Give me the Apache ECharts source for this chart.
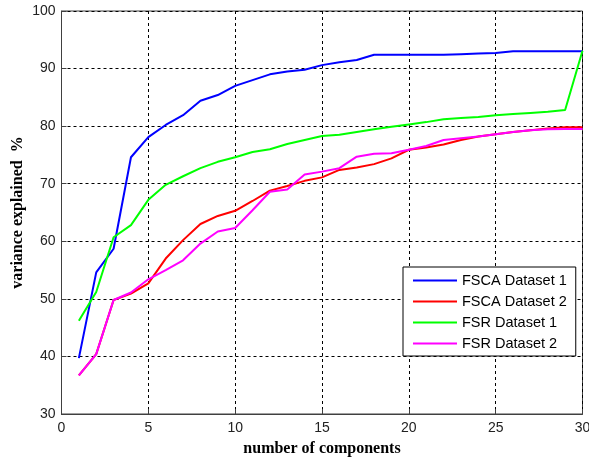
<!DOCTYPE html>
<html>
<head>
<meta charset="utf-8">
<script src="https://cdn.jsdelivr.net/npm/echarts@6/dist/echarts.min.js"></script>
<style>html,body{margin:0;padding:0;background:#fff;}#c{width:589px;height:459px;}</style>
</head>
<body>
<div id="c"></div>
<script>
const components = [1,2,3,4,5,6,7,8,9,10,11,12,13,14,15,16,17,18,19,20,21,22,23,24,25,26,27,28,29,30];
const fscaDataset1 = [39.7,54.6,58.7,74.6,78.1,80.2,81.9,84.4,85.4,87.0,88.0,89.0,89.5,89.8,90.6,91.1,91.5,92.4,92.4,92.4,92.4,92.4,92.5,92.6,92.7,93.0,93.0,93.0,93.0,93.0];
const fscaDataset2 = [36.7,40.4,49.8,50.9,52.7,57.0,60.2,63.0,64.4,65.3,67.0,68.8,69.6,70.5,71.1,72.4,72.8,73.4,74.4,75.9,76.3,76.8,77.6,78.2,78.6,79.0,79.3,79.6,79.8,79.8];
const fsrDataset1 = [46.2,51.2,60.7,62.8,67.2,69.8,71.3,72.7,73.8,74.6,75.5,76.0,76.9,77.6,78.3,78.5,79.0,79.45,79.9,80.3,80.7,81.2,81.4,81.6,81.9,82.1,82.3,82.5,82.8,93.1];
const fsrDataset2 = [36.7,40.4,49.8,51.1,53.4,55.0,56.7,59.6,61.7,62.3,65.4,68.6,69.0,71.6,72.1,72.7,74.7,75.2,75.3,75.9,76.55,77.6,77.9,78.2,78.6,79.0,79.3,79.45,79.5,79.5];
const seriesNames = ['FSCA Dataset 1','FSCA Dataset 2','FSR Dataset 1','FSR Dataset 2'];
const seriesColors = ['#0000ff','#ff0000','#00ff00','#ff00ff'];
const seriesValues = [fscaDataset1, fscaDataset2, fsrDataset1, fsrDataset2];

const chart = echarts.init(document.getElementById('c'), null, {renderer:'canvas'});
const dashed = {show:true, lineStyle:{color:'#000', type:[3,3], width:1}};
chart.setOption({
  animation:false,
  backgroundColor:'#fff',
  grid:{left:61.5, right:6.5, top:11, bottom:45, containLabel:false, outerBoundsMode:'none', show:true, borderColor:'#404040', borderWidth:1, backgroundColor:'transparent'},
  xAxis:{
    type:'value', min:0, max:30, interval:5,
    name:'number of components', nameLocation:'middle', nameGap:27, nameMoveOverlap:false,
    nameTextStyle:{fontFamily:'Liberation Serif', fontWeight:'bold', fontSize:16, color:'#000'},
    axisLine:{show:true, lineStyle:{color:'#404040'}},
    axisTick:{show:true, inside:true, length:5, lineStyle:{color:'#404040'}},
    axisLabel:{fontFamily:'Liberation Sans', fontSize:14, color:'#222', margin:7},
    splitLine:dashed
  },
  yAxis:{
    type:'value', min:30, max:100, interval:10,
    name:'variance explained  %', nameLocation:'middle', nameGap:36, nameRotate:90, nameMoveOverlap:false,
    nameTextStyle:{fontFamily:'Liberation Serif', fontWeight:'bold', fontSize:16, color:'#000'},
    axisLine:{show:true, lineStyle:{color:'#404040'}},
    axisTick:{show:true, inside:true, length:5, lineStyle:{color:'#404040'}},
    axisLabel:{fontFamily:'Liberation Sans', fontSize:14, color:'#222', margin:6},
    splitLine:dashed
  },
  legend:{
    orient:'vertical', left:403, top:267,
    backgroundColor:'#fff', borderColor:'#000', borderWidth:1,
    padding:[6,9,5,9], itemWidth:44, itemHeight:14, itemGap:6,
    itemStyle:{opacity:0},
    textStyle:{fontFamily:'Liberation Sans', fontSize:14.5, color:'#000'},
    data:seriesNames
  },
  series: seriesNames.map((n,i)=>({
    name:n, type:'line', symbol:'none', smooth:false,
    color:seriesColors[i],
    lineStyle:{color:seriesColors[i], width:2},
    data: components.map((x,j)=>[x, seriesValues[i][j]])
  }))
});
</script>
</body>
</html>
